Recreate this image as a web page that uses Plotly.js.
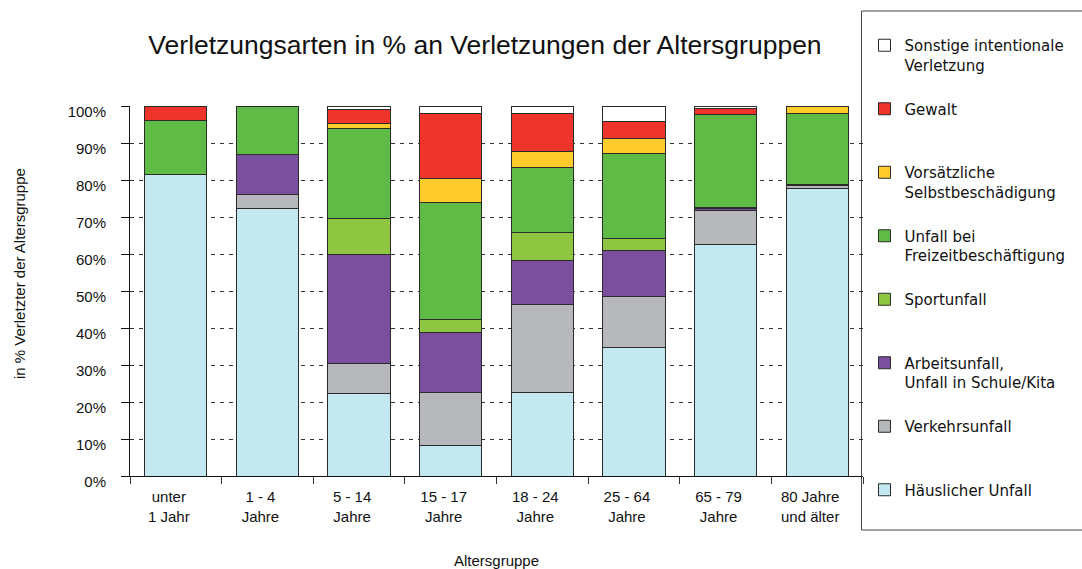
<!DOCTYPE html>
<html>
<head>
<meta charset="utf-8">
<script src="https://cdn.plot.ly/plotly-3.0.1.min.js"></script>
<style>html,body{margin:0;padding:0;background:#fff;}#chart{width:1082px;height:569px;}</style>
</head>
<body>
<div id="chart"></div>
<script>
// Age groups (x categories)
const categories = ["unter<br>1 Jahr","1 - 4<br>Jahre","5 - 14<br>Jahre","15 - 17<br>Jahre","18 - 24<br>Jahre","25 - 64<br>Jahre","65 - 79<br>Jahre","80 Jahre<br>und älter"];

// Series values in % (bottom to top of each stack)
const haeuslicherUnfall   = [81.5, 72.2, 22.2,  8.3, 22.7, 34.7, 62.6, 77.6];
const verkehrsunfall      = [ 0.0,  3.9,  8.2, 14.4, 23.7, 13.9,  9.2,  1.0];
const arbeitsunfall       = [ 0.0, 10.7, 29.5, 16.1, 11.9, 12.4,  0.4,  0.2];
const sportunfall         = [ 0.0,  0.0,  9.7,  3.4,  7.6,  3.2,  0.3,  0.1];
const freizeitUnfall      = [14.5, 13.2, 24.3, 31.7, 17.6, 23.0, 25.1, 19.2];
const selbstbeschaedigung = [ 0.0,  0.0,  1.4,  6.5,  4.3,  4.0,  0.2,  1.9];
const gewalt              = [ 4.0,  0.0,  3.8, 17.6, 10.2,  4.7,  1.5,  0.0];
const sonstigeIntentional = [ 0.0,  0.0,  0.9,  2.0,  2.0,  4.1,  0.7,  0.0];

// Series names (legend labels)
const seriesNames = [
  "Häuslicher Unfall<br> ",
  "Verkehrsunfall<br> ",
  "Arbeitsunfall,<br>Unfall in Schule/Kita",
  "Sportunfall<br> ",
  "Unfall bei<br>Freizeitbeschäftigung",
  "Vorsätzliche<br>Selbstbeschädigung",
  "Gewalt<br> ",
  "Sonstige intentionale<br>Verletzung"
];
const seriesValues = [haeuslicherUnfall, verkehrsunfall, arbeitsunfall, sportunfall, freizeitUnfall, selbstbeschaedigung, gewalt, sonstigeIntentional];
const seriesColors = ["#c4e8ef", "#b7b8bb", "#7a4f9e", "#8fc641", "#5fba46", "#ffcc2b", "#ef342b", "#ffffff"];

// y tick values
const yTicks = [0,10,20,30,40,50,60,70,80,90,100];

const traces = seriesNames.map((name, i) => ({
  type: "bar",
  name: name,
  x: categories,
  y: seriesValues[i],
  legendgroup: "g" + i,
  legendrank: seriesNames.length - i,
  marker: {color: seriesColors[i], line: {color: "#2a2a2a", width: 1}},
  hovertemplate: "%{x}: %{y}%<extra></extra>"
}));

const W = 1082, H = 569;
const L = 130, R = 218.5, T = 106, B = 93;
const pw = W - L - R, ph = H - T - B;
const px = v => (v - L) / pw;
const py = v => (H - B - v) / ph;

const layout = {
  width: W, height: H,
  margin: {l: L, r: R, t: T, b: B, pad: 0},
  paper_bgcolor: "#fff", plot_bgcolor: "#fff",
  barmode: "stack",
  bargap: 0.32,
  font: {family: "Liberation Sans, Arial, sans-serif", size: 15, color: "#111"},
  title: {
    text: "Verletzungsarten in % an Verletzungen der Altersgruppen",
    font: {size: 26.5, color: "#111", family: "Liberation Sans, Arial, sans-serif"},
    xref: "container", yref: "container",
    x: 485 / W, xanchor: "center",
    y: 1 - 45 / H, yanchor: "middle"
  },
  xaxis: {
    type: "category",
    showline: true, linecolor: "#111", linewidth: 1,
    ticks: "outside", ticklen: 7, tickcolor: "#333", tickwidth: 1,
    tickson: "boundaries",
    ticklabelshift: -7,
    ticklabelstandoff: 7,
    tickfont: {size: 15, color: "#111"},
    showgrid: false, zeroline: false,
    title: {text: "Altersgruppe", font: {size: 15, color: "#111"}, standoff: 31},
    fixedrange: true
  },
  yaxis: {
    range: [0, 100],
    tickvals: yTicks,
    ticktext: yTicks.map(v => v + "%"),
    showline: true, linecolor: "#111", linewidth: 1,
    ticks: "outside", ticklen: 8, tickcolor: "#111",
    ticklabelstandoff: 12,
    ticklabelshift: 6,
    tickfont: {size: 15, color: "#111"},
    showgrid: true, gridcolor: "#333", gridwidth: 1, griddash: "4px,5px",
    zeroline: false,
    fixedrange: true
  },
  showlegend: true,
  legend: {
    x: px(865), xanchor: "left",
    y: py(29), yanchor: "top",
    xref: "paper", yref: "paper",
    traceorder: "grouped",
    tracegroupgap: 21.5,
    valign: "top",
    maxheight: 560,
    bgcolor: "rgba(0,0,0,0)",
    borderwidth: 0,
    font: {family: "DejaVu Sans, sans-serif", size: 15, color: "#111"}
  },
  shapes: [{
    type: "rect", xref: "paper", yref: "paper",
    x0: px(862), x1: px(1095), y0: py(530), y1: py(11),
    line: {color: "#444", width: 1}, fillcolor: "rgba(0,0,0,0)", layer: "below"
  }],
  annotations: [{
    text: "in % Verletzter der Altersgruppe",
    xref: "paper", yref: "paper",
    x: px(19), y: py(274), xanchor: "center", yanchor: "middle",
    textangle: -90, showarrow: false,
    font: {size: 15, color: "#111"}
  }]
};

Plotly.newPlot("chart", traces, layout, {displayModeBar: false, staticPlot: true});
</script>
</body>
</html>
